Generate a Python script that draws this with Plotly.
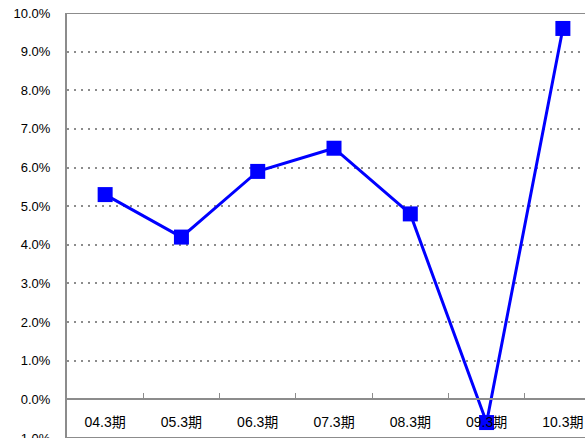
import plotly.graph_objects as go

categories = ["04.3期", "05.3期", "06.3期", "07.3期", "08.3期", "09.3期", "10.3期"]
values = [5.3, 4.2, 5.9, 6.5, 4.8, -0.6, 9.6]
y_ticks = [-1, 0, 1, 2, 3, 4, 5, 6, 7, 8, 9, 10]

fig = go.Figure()
fig.add_trace(go.Scatter(
    x=categories, y=values, mode="lines+markers",
    line=dict(color="#0000FF", width=3),
    marker=dict(symbol="square", size=15, color="#0000FF"),
    cliponaxis=False,
))

grid_color = "#8c8c8c"
fig.update_layout(
    width=585, height=438,
    margin=dict(l=67, r=0, t=13, b=0, autoexpand=False),
    paper_bgcolor="white", plot_bgcolor="white",
    showlegend=False,
    font=dict(family="Noto Sans CJK JP, Arial, sans-serif", size=12, color="black"),
    xaxis=dict(
        type="category", range=[-0.5, 6.29],
        anchor="free", position=39/425,
        showline=True, linecolor=grid_color, linewidth=2,
        ticks="inside", ticklen=5, tickcolor=grid_color, tickwidth=1,
        tickson="boundaries", showgrid=False,
        ticklabelstandoff=10, ticklabeloverflow="allow",
        tickfont=dict(size=14, family="Liberation Sans, Noto Sans CJK JP, sans-serif"),
    ),
    yaxis=dict(
        range=[-1.0, 10.0], tickvals=y_ticks,
        ticktext=[f"{v:.1f}%" for v in y_ticks],
        showline=True, linecolor=grid_color, linewidth=2,
        showgrid=True, gridcolor=grid_color, gridwidth=2, griddash="2px,5px",
        zeroline=False, ticks="", ticklen=0,
        ticklabelstandoff=12, ticklabeloverflow="allow",
        tickfont=dict(size=13, family="Liberation Sans, Arial, sans-serif"),
    ),
)
fig.add_shape(type="line", xref="paper", yref="y", x0=0, x1=1, y0=10, y1=10,
              line=dict(color=grid_color, width=2))
fig.add_shape(type="line", xref="paper", yref="y", x0=0, x1=1, y0=-1, y1=-1,
              line=dict(color=grid_color, width=2))
fig.write_html("out.html",
               config={"displayModeBar": False},
               post_script="document.body.style.margin='0';document.body.style.overflow='hidden';")
